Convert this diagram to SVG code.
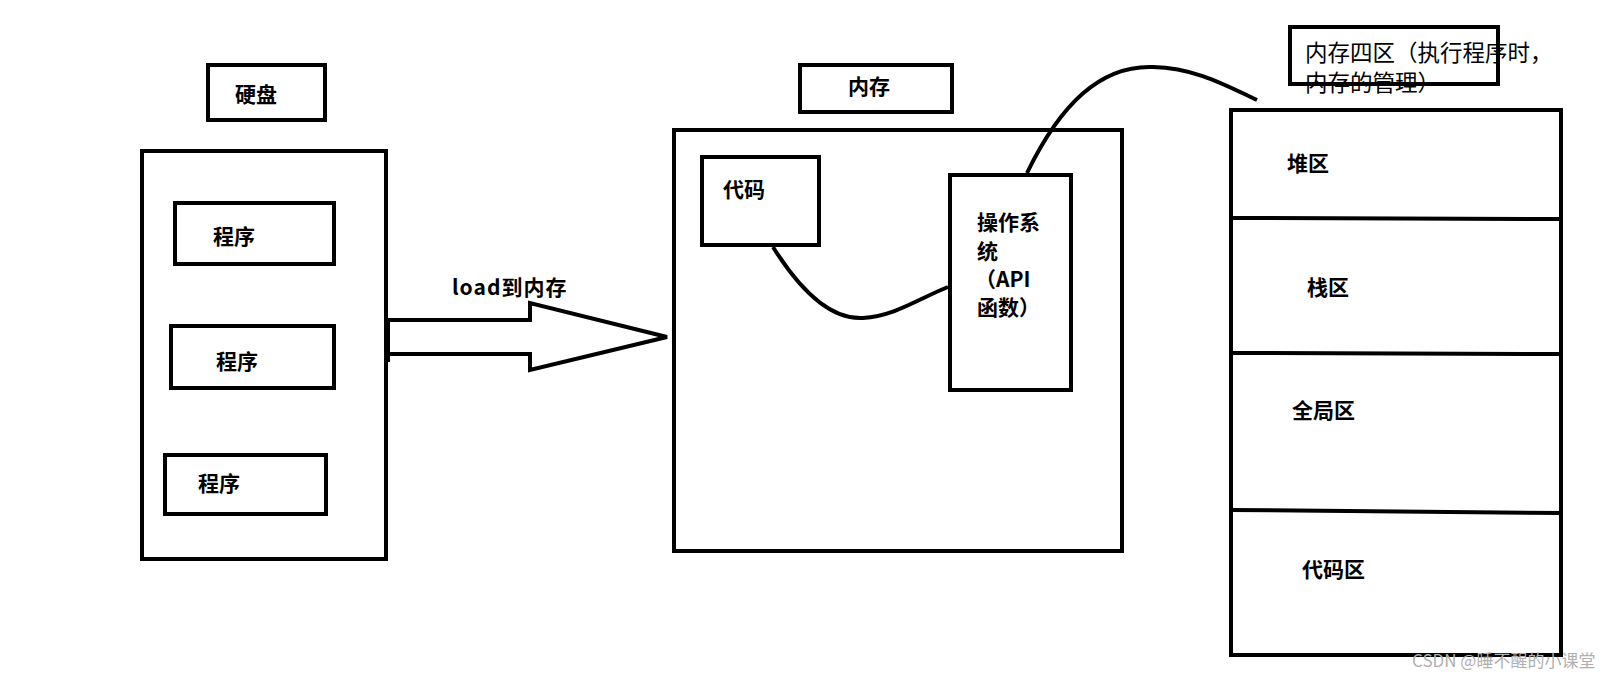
<svg xmlns="http://www.w3.org/2000/svg" width="1619" height="678" viewBox="0 0 1619 678">
<style>
.b{fill:none;stroke:#000;stroke-width:4}
.t{font-family:"Noto Sans CJK SC","Noto Sans",sans-serif;font-weight:bold;font-size:21px;fill:#000}
.r{font-family:"Noto Sans CJK SC","Noto Sans",sans-serif;font-size:22.5px;fill:#000}
.w{font-family:"Noto Sans CJK SC","Noto Sans",sans-serif;font-size:17px;fill:#b0b0b0}
</style>
<rect width="1619" height="678" fill="#fff"/>
<g id="disk-label"><rect class="b" x="208" y="65" width="117" height="55"/><text class="t" x="235" y="102">硬盘</text></g>
<g id="disk"><rect class="b" x="142" y="151" width="244" height="408"/></g>
<g id="prog1"><rect class="b" x="175" y="203" width="159" height="61"/><text class="t" x="213" y="244">程序</text></g>
<g id="prog2"><rect class="b" x="171" y="326" width="163" height="62"/><text class="t" x="216" y="369">程序</text></g>
<g id="prog3"><rect class="b" x="165" y="455" width="161" height="59"/><text class="t" x="198" y="491">程序</text></g>
<g id="mem-label"><rect class="b" x="800" y="65" width="152" height="47"/><text class="t" x="848" y="94">内存</text></g>
<g id="mem"><rect class="b" x="674" y="130" width="448" height="421"/></g>
<g id="code"><rect class="b" x="702" y="157" width="117" height="88"/><text class="t" x="723" y="197">代码</text></g>
<g id="os"><rect class="b" x="950" y="175" width="121" height="215"/>
<text class="t" x="977" y="230">操作系</text>
<text class="t" x="977" y="259">统</text>
<text class="t" x="975" y="287">（API</text>
<text class="t" x="977" y="315">函数）</text></g>
<g id="areas-label"><rect class="b" x="1290" y="27" width="208" height="57"/>
<text class="r" x="1305" y="61">内存四区（执行程序时，</text>
<text class="r" x="1305" y="91">内存的管理）</text></g>
<g id="areas"><rect class="b" x="1231" y="110" width="330" height="545"/>
<line class="b" x1="1231" y1="218" x2="1561" y2="219"/>
<line class="b" x1="1231" y1="353" x2="1561" y2="354"/>
<line class="b" x1="1231" y1="510" x2="1561" y2="513"/>
<text class="t" x="1287" y="171">堆区</text>
<text class="t" x="1307" y="295">栈区</text>
<text class="t" x="1292" y="418">全局区</text>
<text class="t" x="1302" y="577">代码区</text></g>
<g id="connectors">
<path class="b" d="M388,320 L530,320 L530,303 L667,337 L530,370 L530,354 L388,354"/>
<line class="b" x1="388" y1="319" x2="388" y2="362" stroke-width="6"/>
<text class="t" x="452" y="295" style="letter-spacing:1px">load到内存</text>
<path class="b" d="M773,247 C800,290 830,320 863,318 C895,316 920,298 948,287"/>
<path class="b" d="M1027,173 C1060,105 1100,65 1153,67 C1195,68 1225,85 1257,100"/>
</g>
<text class="w" x="1412" y="667">CSDN @睡不醒的小课堂</text>
</svg>
